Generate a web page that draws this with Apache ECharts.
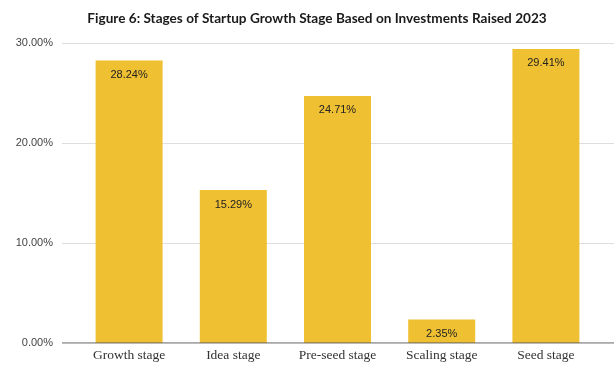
<!DOCTYPE html>
<html>
<head>
<meta charset="utf-8">
<script src="https://cdn.jsdelivr.net/npm/echarts@6/dist/echarts.min.js"></script>
<style>
  html, body { margin: 0; padding: 0; background: #fff; }
  #chart { width: 614px; height: 367px; }
</style>
</head>
<body>
<div id="chart"></div>
<script>
// Share of startups by growth stage, 2023
const stages = ['Growth stage', 'Idea stage', 'Pre-seed stage', 'Scaling stage', 'Seed stage'];
const shares = [28.24, 15.29, 24.71, 2.35, 29.41];
const yTicks = [0, 10, 20, 30];

const yMin = yTicks[0];
const yMax = yTicks[yTicks.length - 1];

const chart = echarts.init(document.getElementById('chart'), null, { renderer: 'canvas' });

chart.setOption({
  animation: false,
  backgroundColor: '#ffffff',
  title: {
    text: 'Figure 6: Stages of Startup Growth Stage Based on Investments Raised 2023',
    left: 312,
    textAlign: 'center',
    top: 7,
    textStyle: { fontFamily: 'Lato', fontWeight: 'bold', fontSize: 13.6, color: '#1a1a1a' }
  },
  grid: [
    // wide grid: value gridlines, baseline and tick labels
    { left: 62, right: 0, top: 43, bottom: 24 },
    // bar grid
    { left: 77, right: 16, top: 43, bottom: 24 }
  ],
  xAxis: [
    {
      gridIndex: 0, type: 'value', min: 0, max: 1, show: true,
      axisLine: { show: false }, axisTick: { show: false },
      axisLabel: { show: false }, splitLine: { show: false }
    },
    {
      gridIndex: 1, type: 'category', data: stages,
      axisLine: { show: false }, axisTick: { show: false },
      axisLabel: {
        interval: 0, hideOverlap: false, margin: 5,
        fontFamily: 'Liberation Serif', fontSize: 13.5, color: '#333'
      }
    }
  ],
  yAxis: [
    {
      gridIndex: 0, type: 'value', min: yMin, max: yMax, interval: 10,
      axisLine: { show: false }, axisTick: { show: false },
      axisLabel: {
        margin: 9,
        fontFamily: 'Liberation Sans', fontSize: 11, color: '#444',
        formatter: v => v.toFixed(2) + '%'
      },
      splitLine: { lineStyle: { color: '#dedede', width: 1 } }
    },
    {
      gridIndex: 1, type: 'value', min: yMin, max: yMax, interval: 10,
      show: false
    }
  ],
  series: [
    {
      // baseline along the bottom of the wide grid
      type: 'line', xAxisIndex: 0, yAxisIndex: 0,
      data: [[0, 0], [1, 0]], symbol: 'none', silent: true,
      lineStyle: { color: '#555', width: 1 }, z: 3
    },
    {
      type: 'bar', xAxisIndex: 1, yAxisIndex: 1,
      data: shares, barWidth: 67,
      itemStyle: { color: '#F0C033' },
      label: {
        show: true, position: 'insideTop', distance: 9,
        fontFamily: 'Liberation Sans', fontSize: 11, color: '#222',
        formatter: p => p.value.toFixed(2) + '%'
      },
      z: 2
    }
  ]
});
</script>
</body>
</html>
